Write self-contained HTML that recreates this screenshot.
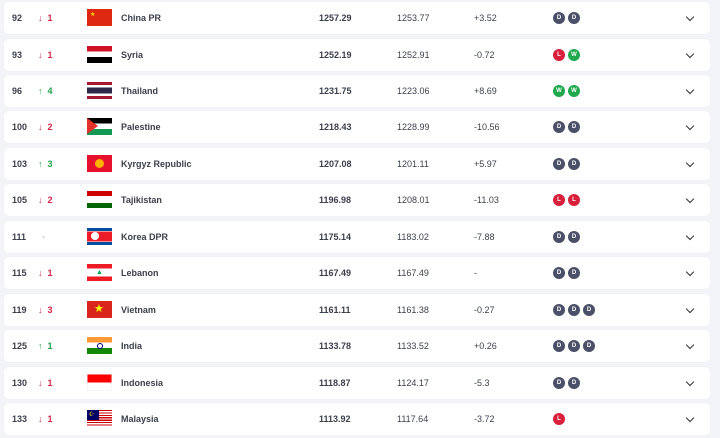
<!DOCTYPE html>
<html><head><meta charset="utf-8"><style>
body{margin:0;width:720px;height:438px;background:#f3f4f7;font-family:"Liberation Sans",sans-serif;overflow:hidden;position:relative}
.r{position:absolute;left:4px;width:706px;height:32px;background:#fff;border-radius:5px;box-shadow:0 0 1px rgba(0,0,0,.06)}
.r span{position:absolute;top:0;line-height:32px;font-size:9px;color:#3a3f4b}
.rk{left:8px;font-weight:bold}
.ar{left:34px;font-weight:bold}
.dn{color:#d4274a!important}.up{color:#1ea34a!important}
.fl{position:absolute;left:83px;top:7px;width:25px;height:17px;overflow:hidden}
.nm{left:117px;font-weight:bold}
.pt{left:315px;font-weight:bold}
.pv{left:393px}
.df{left:470px}
.res{position:absolute;left:549px;top:10px}
.c{display:inline-block;font-style:normal;width:12px;height:12px;border-radius:50%;color:#fff;font-size:6px;font-weight:bold;text-align:center;line-height:12px;margin-right:3px;vertical-align:top}
.D{background:#4a5068}.L{background:#d81f3c}.W{background:#1fa84c}
.ch{position:absolute;left:683px;top:12px;width:5px;height:5px;border-right:1.5px solid #333;border-bottom:1.5px solid #333;transform:rotate(45deg)}
</style></head><body>

<div class="r" style="top:2px"><span class="rk">92</span><span class="ar dn">↓&nbsp;&nbsp;1</span><div class="fl" style="background:#de2910"><div style="position:absolute;left:3px;top:2px;color:#ffde00;font-size:6px">★</div></div><span class="nm">China PR</span><span class="pt">1257.29</span><span class="pv">1253.77</span><span class="df">+3.52</span><div class="res"><i class="c D">D</i><i class="c D">D</i></div><div class="ch"></div></div>

<div class="r" style="top:38.5px"><span class="rk">93</span><span class="ar dn">↓&nbsp;&nbsp;1</span><div class="fl" style="background:linear-gradient(#ce1126 0 33%,#fff 33% 66%,#000 66%)"></div><span class="nm">Syria</span><span class="pt">1252.19</span><span class="pv">1252.91</span><span class="df">-0.72</span><div class="res"><i class="c L">L</i><i class="c W">W</i></div><div class="ch"></div></div>

<div class="r" style="top:75px"><span class="rk">96</span><span class="ar up">↑&nbsp;&nbsp;4</span><div class="fl" style="background:linear-gradient(#a51931 0 17%,#fff 17% 33%,#2d2a4a 33% 67%,#fff 67% 83%,#a51931 83%)"></div><span class="nm">Thailand</span><span class="pt">1231.75</span><span class="pv">1223.06</span><span class="df">+8.69</span><div class="res"><i class="c W">W</i><i class="c W">W</i></div><div class="ch"></div></div>

<div class="r" style="top:111.4px"><span class="rk">100</span><span class="ar dn">↓&nbsp;&nbsp;2</span><div class="fl" style="background:linear-gradient(#000 0 33%,#fff 33% 66%,#149954 66%)"><div style="position:absolute;left:0;top:0;border-left:11px solid #e4312b;border-top:8.5px solid transparent;border-bottom:8.5px solid transparent"></div></div><span class="nm">Palestine</span><span class="pt">1218.43</span><span class="pv">1228.99</span><span class="df">-10.56</span><div class="res"><i class="c D">D</i><i class="c D">D</i></div><div class="ch"></div></div>

<div class="r" style="top:147.8px"><span class="rk">103</span><span class="ar up">↑&nbsp;&nbsp;3</span><div class="fl" style="background:#e8112d"><div style="position:absolute;left:8px;top:4px;width:9px;height:9px;border-radius:50%;background:#ffb000"></div></div><span class="nm">Kyrgyz Republic</span><span class="pt">1207.08</span><span class="pv">1201.11</span><span class="df">+5.97</span><div class="res"><i class="c D">D</i><i class="c D">D</i></div><div class="ch"></div></div>

<div class="r" style="top:184.3px"><span class="rk">105</span><span class="ar dn">↓&nbsp;&nbsp;2</span><div class="fl" style="background:linear-gradient(#cc0000 0 30%,#fff 30% 70%,#006600 70%)"></div><span class="nm">Tajikistan</span><span class="pt">1196.98</span><span class="pv">1208.01</span><span class="df">-11.03</span><div class="res"><i class="c L">L</i><i class="c L">L</i></div><div class="ch"></div></div>

<div class="r" style="top:220.7px"><span class="rk">111</span><span class="ar" style="color:#ddd;left:38px">•</span><div class="fl" style="background:linear-gradient(#024fa2 0 17%,#fff 17% 22%,#ed1c27 22% 78%,#fff 78% 83%,#024fa2 83%)"><div style="position:absolute;left:4px;top:4.5px;width:8px;height:8px;border-radius:50%;background:#fff"></div></div><span class="nm">Korea DPR</span><span class="pt">1175.14</span><span class="pv">1183.02</span><span class="df">-7.88</span><div class="res"><i class="c D">D</i><i class="c D">D</i></div><div class="ch"></div></div>

<div class="r" style="top:257.2px"><span class="rk">115</span><span class="ar dn">↓&nbsp;&nbsp;1</span><div class="fl" style="background:linear-gradient(#ed1c24 0 25%,#fff 25% 75%,#ed1c24 75%)"><div style="position:absolute;left:9px;top:5px;color:#00a651;font-size:7px">▲</div></div><span class="nm">Lebanon</span><span class="pt">1167.49</span><span class="pv">1167.49</span><span class="df">-</span><div class="res"><i class="c D">D</i><i class="c D">D</i></div><div class="ch"></div></div>

<div class="r" style="top:293.6px"><span class="rk">119</span><span class="ar dn">↓&nbsp;&nbsp;3</span><div class="fl" style="background:#da251d"><div style="position:absolute;left:7px;top:1px;color:#ffff00;font-size:11px;line-height:15px">★</div></div><span class="nm">Vietnam</span><span class="pt">1161.11</span><span class="pv">1161.38</span><span class="df">-0.27</span><div class="res"><i class="c D">D</i><i class="c D">D</i><i class="c D">D</i></div><div class="ch"></div></div>

<div class="r" style="top:330px"><span class="rk">125</span><span class="ar up">↑&nbsp;&nbsp;1</span><div class="fl" style="background:linear-gradient(#ff9933 0 33%,#fff 33% 66%,#138808 66%)"><div style="position:absolute;left:10px;top:6px;width:4px;height:4px;border-radius:50%;border:0.8px solid #000080"></div></div><span class="nm">India</span><span class="pt">1133.78</span><span class="pv">1133.52</span><span class="df">+0.26</span><div class="res"><i class="c D">D</i><i class="c D">D</i><i class="c D">D</i></div><div class="ch"></div></div>

<div class="r" style="top:366.5px"><span class="rk">130</span><span class="ar dn">↓&nbsp;&nbsp;1</span><div class="fl" style="background:linear-gradient(#ff0000 0 50%,#fff 50%);box-shadow:inset 0 0 0 0.5px #eee"></div><span class="nm">Indonesia</span><span class="pt">1118.87</span><span class="pv">1124.17</span><span class="df">-5.3</span><div class="res"><i class="c D">D</i><i class="c D">D</i></div><div class="ch"></div></div>

<div class="r" style="top:403px"><span class="rk">133</span><span class="ar dn">↓&nbsp;&nbsp;1</span><div class="fl" style="background:repeating-linear-gradient(#cc0001 0 1.2px,#fff 1.2px 2.4px)"><div style="position:absolute;left:0;top:0;width:12px;height:9.5px;background:#010066"><div style="position:absolute;left:2px;top:1px;color:#fc0;font-size:6px">☪</div></div></div><span class="nm">Malaysia</span><span class="pt">1113.92</span><span class="pv">1117.64</span><span class="df">-3.72</span><div class="res"><i class="c L">L</i></div><div class="ch"></div></div>

</body></html>
